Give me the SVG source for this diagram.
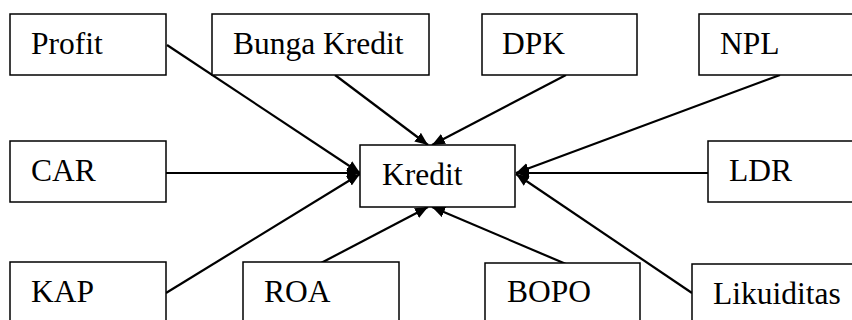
<svg xmlns="http://www.w3.org/2000/svg" width="852" height="320" viewBox="0 0 852 320">
<style>
.box{fill:#fff;stroke:#000;stroke-width:1.5}
.lbl{font-family:'Liberation Serif','DejaVu Serif',serif;font-size:31.5px;fill:#000}
.con{stroke:#000;stroke-width:2.2;fill:none;marker-end:url(#ah)}
</style>
<defs>
<marker id="ah" markerUnits="userSpaceOnUse" markerWidth="14" markerHeight="12" refX="13" refY="5.5" orient="auto" viewBox="0 0 14 12">
<path d="M0,0 L13,5.5 L0,11 z" fill="#000"/>
</marker>
</defs>
<rect width="852" height="320" fill="#fff"/>
<g id="connectors">
<line class="con" x1="167" y1="45" x2="360" y2="173"/>
<line class="con" x1="166" y1="173" x2="360" y2="173"/>
<line class="con" x1="166" y1="293" x2="360" y2="174"/>
<line class="con" x1="335" y1="75" x2="428" y2="145"/>
<line class="con" x1="566" y1="75" x2="432" y2="145"/>
<line class="con" x1="780" y1="75" x2="516" y2="173"/>
<line class="con" x1="708" y1="173" x2="516" y2="173"/>
<line class="con" x1="692" y1="293" x2="516" y2="174"/>
<line class="con" x1="321" y1="263" x2="428" y2="207"/>
<line class="con" x1="566" y1="264" x2="432" y2="207"/>
</g>
<g id="profit"><rect class="box" x="10" y="14" width="156" height="61"/><text class="lbl" x="31" y="54">Profit</text></g>
<g id="bunga-kredit"><rect class="box" x="212" y="14" width="217" height="61"/><text class="lbl" x="233" y="54">Bunga Kredit</text></g>
<g id="dpk"><rect class="box" x="482" y="14" width="155" height="61"/><text class="lbl" x="502" y="54">DPK</text></g>
<g id="npl"><rect class="box" x="699" y="14" width="170" height="61"/><text class="lbl" x="720" y="54">NPL</text></g>
<g id="car"><rect class="box" x="10" y="141" width="156" height="61"/><text class="lbl" x="31" y="181">CAR</text></g>
<g id="kredit"><rect class="box" x="360" y="145" width="155" height="62"/><text class="lbl" x="382" y="185">Kredit</text></g>
<g id="ldr"><rect class="box" x="708" y="141" width="160" height="61"/><text class="lbl" x="729" y="181">LDR</text></g>
<g id="kap"><rect class="box" x="10" y="262" width="156" height="70"/><text class="lbl" x="31" y="302">KAP</text></g>
<g id="roa"><rect class="box" x="243" y="262" width="156" height="70"/><text class="lbl" x="264" y="302">ROA</text></g>
<g id="bopo"><rect class="box" x="485" y="263" width="155" height="70"/><text class="lbl" x="507" y="302">BOPO</text></g>
<g id="likuiditas"><rect class="box" x="692" y="264" width="170" height="70"/><text class="lbl" x="713" y="304">Likuiditas</text></g>
</svg>
